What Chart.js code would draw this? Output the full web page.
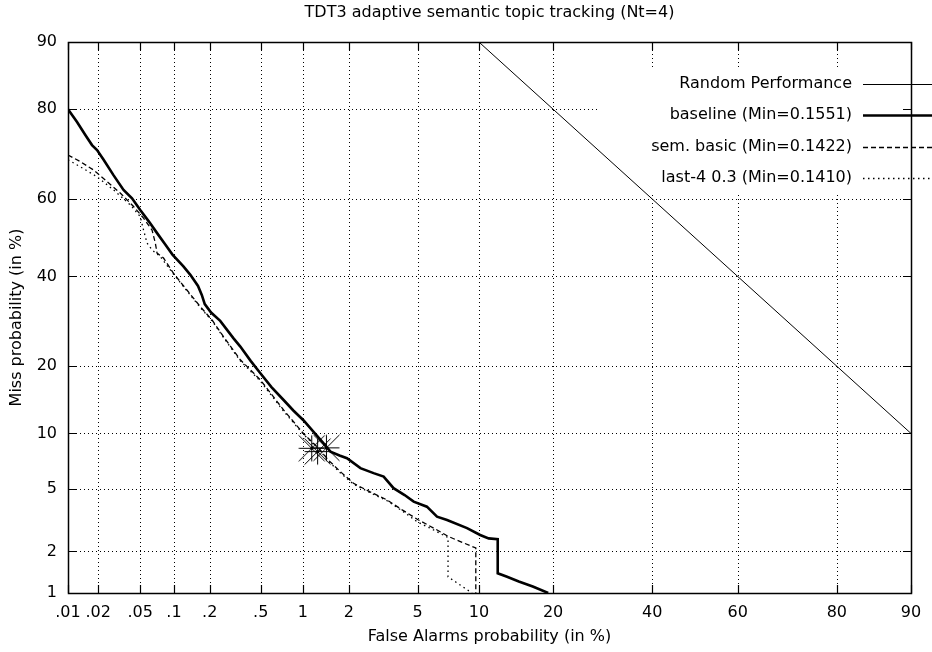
<!DOCTYPE html>
<html>
<head>
<meta charset="utf-8">
<script src="https://cdn.jsdelivr.net/npm/chart.js@4.4.1/dist/chart.umd.min.js"></script>
<style>
  html, body { margin: 0; padding: 0; background: #ffffff; }
  #wrap { width: 932px; height: 652px; }
</style>
</head>
<body>
<div id="wrap"><canvas id="det" width="932" height="652"></canvas></div>
<script>
// ---- DET curve data (percent) ----
const chartTitle = 'TDT3 adaptive semantic topic tracking (Nt=4)';
const xAxisTitle = 'False Alarms probability (in %)';
const yAxisTitle = 'Miss probability (in %)';

const xTickValues = [0.01, 0.02, 0.05, 0.1, 0.2, 0.5, 1, 2, 5, 10, 20, 40, 60, 80, 90];
const xTickLabels = ['.01', '.02', '.05', '.1', '.2', '.5', '1', '2', '5', '10', '20', '40', '60', '80', '90'];
const yTickValues = [1, 2, 5, 10, 20, 40, 60, 80, 90];
const yTickLabels = ['1', '2', '5', '10', '20', '40', '60', '80', '90'];

const seriesNames = [
  'Random Performance',
  'baseline (Min=0.1551)',
  'sem. basic (Min=0.1422)',
  'last-4 0.3 (Min=0.1410)'
];

const randomFa = [10, 90];
const randomMiss = [90, 10];

const baselineFa = [0.01, 0.0123, 0.015, 0.0174, 0.0195, 0.0226, 0.0281, 0.035, 0.042, 0.050, 0.060, 0.071,
  0.083, 0.097, 0.120, 0.138, 0.160, 0.172, 0.182, 0.205, 0.243, 0.31, 0.35, 0.42, 0.497, 0.60, 0.734, 0.86,
  1.01, 1.18, 1.38, 1.53, 1.75, 1.95, 2.36, 2.83, 3.24, 3.69, 4.25, 4.76, 5.59, 6.30, 7.07, 8.82, 10.13,
  11.05, 12.1, 12.1, 13.25, 14.8, 16.8, 19.2];
const baselineMiss = [80, 77.6, 74.9, 72.8, 71.7, 69.5, 65.9, 62.3, 60.2, 57.2, 54.2, 51.2,
  48.4, 45.6, 42.6, 40.4, 37.6, 35.4, 33.2, 31.2, 29.3, 25.5, 23.8, 21.0, 18.75, 16.4, 14.4, 12.9,
  11.6, 10.2, 8.9, 8.07, 7.7, 7.44, 6.57, 6.16, 5.89, 5.05, 4.6, 4.2, 3.91, 3.39, 3.23, 2.86, 2.58,
  2.45, 2.42, 1.40, 1.32, 1.22, 1.12, 1.0];

const semBasicFa = [0.01, 0.0133, 0.0181, 0.0243, 0.0326, 0.0434, 0.0536, 0.064, 0.0685, 0.0709, 0.081,
  0.099, 0.129, 0.167, 0.209, 0.259, 0.35, 0.497, 0.734, 1.01, 1.31, 1.48, 1.8, 2.14, 2.7, 3.39, 4.1, 5.05,
  6.1, 7.19, 8.2, 9.68, 9.68];
const semBasicMiss = [70.6, 69.1, 67.1, 64.4, 61.5, 58.1, 55.1, 52.0, 48.6, 46.0, 44.7,
  40.8, 36.6, 32.6, 29.5, 25.8, 21.2, 17.6, 12.97, 10.0, 8.23, 7.28, 6.2, 5.39, 4.8, 4.30, 3.75, 3.23,
  2.85, 2.52, 2.33, 2.11, 1.0];

const last4Fa = [0.01, 0.0133, 0.0195, 0.0281, 0.0405, 0.050, 0.0536, 0.0577, 0.064, 0.0757, 0.099, 0.129,
  0.167, 0.209, 0.259, 0.35, 0.497, 0.734, 1.01, 1.31, 1.48, 1.8, 2.14, 2.7, 3.39, 4.1, 4.96, 6.0, 7.15,
  7.15, 9.3];
const last4Miss = [69.5, 67.9, 65.5, 62.3, 58.5, 55.5, 52.0, 48.6, 46.8, 45.1, 40.6, 36.4,
  32.4, 29.3, 25.6, 21.0, 17.4, 12.8, 9.9, 8.15, 7.2, 6.1, 5.33, 4.75, 4.25, 3.7, 3.15, 2.8, 2.48,
  1.32, 1.0];

// minimum detection cost operating points (baseline, sem. basic, last-4)
const minFa = [1.44, 1.26, 1.15];
const minMiss = [8.44, 8.07, 8.4];

// ---- normal deviate (probit) transform used by the DET axes ----
function probit(p) {
  const a = [-3.969683028665376e+01, 2.209460984245205e+02, -2.759285104469687e+02, 1.383577518672690e+02, -3.066479806614716e+01, 2.506628277459239e+00];
  const b = [-5.447609879822406e+01, 1.615858368580409e+02, -1.556989798598866e+02, 6.680131188771972e+01, -1.328068155288572e+01];
  const c = [-7.784894002430293e-03, -3.223964580411365e-01, -2.400758277161838e+00, -2.549732516482500e+00, 4.374664141464968e+00, 2.938163982698783e+00];
  const d = [7.784695709041462e-03, 3.224671290700398e-01, 2.445134137142996e+00, 3.754408661907416e+00];
  const pl = 0.02425, ph = 1 - pl;
  let q, r;
  if (p < pl) {
    q = Math.sqrt(-2 * Math.log(p));
    return (((((c[0] * q + c[1]) * q + c[2]) * q + c[3]) * q + c[4]) * q + c[5]) / ((((d[0] * q + d[1]) * q + d[2]) * q + d[3]) * q + 1);
  }
  if (p <= ph) {
    q = p - 0.5; r = q * q;
    return (((((a[0] * r + a[1]) * r + a[2]) * r + a[3]) * r + a[4]) * r + a[5]) * q / (((((b[0] * r + b[1]) * r + b[2]) * r + b[3]) * r + b[4]) * r + 1);
  }
  q = Math.sqrt(-2 * Math.log(1 - p));
  return -(((((c[0] * q + c[1]) * q + c[2]) * q + c[3]) * q + c[4]) * q + c[5]) / ((((d[0] * q + d[1]) * q + d[2]) * q + d[3]) * q + 1);
}
const nd = pct => probit(pct / 100);
const toPoints = (fa, miss) => fa.map((v, i) => ({ x: nd(v), y: nd(miss[i]) }));

const FONT = '"DejaVu Sans", Verdana, sans-serif';
const FONT_SIZE = 16;

const seriesStyles = [
  { width: 1, dash: [] },
  { width: 2.6, dash: [] },
  { width: 1.3, dash: [5, 3] },
  { width: 1.3, dash: [1.5, 3.5] }
];

// gnuplot-like asterisk marker (+ and x overlaid)
function asteriskMarker(s) {
  const size = 2 * s + 3;
  const cv = document.createElement('canvas');
  cv.width = size; cv.height = size;
  const g = cv.getContext('2d');
  const m = Math.floor(size / 2) + 0.5;
  g.strokeStyle = '#000';
  g.lineWidth = 1;
  g.beginPath();
  g.moveTo(m - s, m); g.lineTo(m + s, m);
  g.moveTo(m, m - s); g.lineTo(m, m + s);
  g.moveTo(m - s, m - s); g.lineTo(m + s, m + s);
  g.moveTo(m - s, m + s); g.lineTo(m + s, m - s);
  g.stroke();
  return cv;
}

// grid, frame and inward tick marks; the key area keeps the grid clear
const detFrame = {
  id: 'detFrame',
  beforeDatasetsDraw(chart) {
    const { ctx, chartArea: a, scales } = chart;
    const keyBox = { l: a.right - 313, r: a.right, t: a.top + 28, b: a.top + 153 };
    ctx.save();
    ctx.strokeStyle = '#000';
    ctx.lineWidth = 1;
    ctx.setLineDash([1, 3]);
    xTickValues.forEach(v => {
      const px = Math.round(scales.x.getPixelForValue(nd(v))) + 0.5;
      ctx.beginPath();
      if (px > keyBox.l && px < keyBox.r) {
        ctx.moveTo(px, a.top); ctx.lineTo(px, keyBox.t);
        ctx.moveTo(px, keyBox.b); ctx.lineTo(px, a.bottom);
      } else {
        ctx.moveTo(px, a.top); ctx.lineTo(px, a.bottom);
      }
      ctx.stroke();
    });
    yTickValues.forEach(v => {
      const py = Math.round(scales.y.getPixelForValue(nd(v))) + 0.5;
      ctx.beginPath();
      ctx.moveTo(a.left, py);
      if (py > keyBox.t && py < keyBox.b) ctx.lineTo(keyBox.l, py);
      else ctx.lineTo(a.right, py);
      ctx.stroke();
    });
    ctx.restore();
  },
  afterDatasetsDraw(chart) {
    const { ctx, chartArea: a, scales } = chart;
    const tick = 8;
    ctx.save();
    ctx.strokeStyle = '#000';
    ctx.lineWidth = 1.5;
    ctx.setLineDash([]);
    ctx.strokeRect(Math.round(a.left) + 0.5, Math.round(a.top) + 0.5, Math.round(a.right - a.left), Math.round(a.bottom - a.top));
    ctx.lineWidth = 1.2;
    ctx.beginPath();
    xTickValues.forEach(v => {
      const px = Math.round(scales.x.getPixelForValue(nd(v))) + 0.5;
      ctx.moveTo(px, a.bottom); ctx.lineTo(px, a.bottom - tick);
      ctx.moveTo(px, a.top); ctx.lineTo(px, a.top + tick);
    });
    yTickValues.forEach(v => {
      const py = Math.round(scales.y.getPixelForValue(nd(v))) + 0.5;
      ctx.moveTo(a.left, py); ctx.lineTo(a.left + tick, py);
      ctx.moveTo(a.right, py); ctx.lineTo(a.right - tick, py);
    });
    ctx.stroke();
    ctx.restore();
  }
};

// key: right-aligned labels with line samples
const detKey = {
  id: 'detKey',
  afterDraw(chart) {
    const { ctx, chartArea: a } = chart;
    const textRight = a.right - 59;
    const sampleL = a.right - 48, sampleR = a.right + 21;
    const rowTop = a.top + 42, rowStep = 31.3;
    ctx.save();
    ctx.font = FONT_SIZE + 'px ' + FONT;
    ctx.fillStyle = '#000';
    ctx.textAlign = 'right';
    ctx.textBaseline = 'middle';
    seriesNames.forEach((name, i) => {
      const y = rowTop + i * rowStep;
      ctx.fillText(name, textRight, y);
      const s = seriesStyles[i];
      ctx.lineWidth = s.width;
      ctx.setLineDash(s.dash);
      ctx.strokeStyle = '#000';
      ctx.beginPath();
      ctx.moveTo(sampleL, Math.round(y) + 0.5);
      ctx.lineTo(sampleR, Math.round(y) + 0.5);
      ctx.stroke();
    });
    ctx.restore();
  }
};

const lineSet = (label, fa, miss, style) => ({
  label,
  data: toPoints(fa, miss),
  showLine: true,
  borderColor: '#000',
  backgroundColor: '#000',
  borderWidth: style.width,
  borderDash: style.dash,
  pointRadius: 0,
  pointHoverRadius: 0,
  tension: 0,
  fill: false
});

new Chart(document.getElementById('det'), {
  type: 'scatter',
  data: {
    datasets: [
      lineSet(seriesNames[0], randomFa, randomMiss, seriesStyles[0]),
      lineSet(seriesNames[1], baselineFa, baselineMiss, seriesStyles[1]),
      lineSet(seriesNames[2], semBasicFa, semBasicMiss, seriesStyles[2]),
      lineSet(seriesNames[3], last4Fa, last4Miss, seriesStyles[3]),
      {
        label: 'min DCF',
        data: toPoints(minFa, minMiss),
        showLine: false,
        pointStyle: asteriskMarker(13),
        pointRadius: 14,
        borderColor: '#000',
        backgroundColor: '#000'
      }
    ]
  },
  options: {
    responsive: false,
    animation: false,
    devicePixelRatio: 1,
    events: [],
    layout: { padding: { left: 0, right: 21, top: 0, bottom: 0 } },
    plugins: {
      legend: { display: false },
      tooltip: { enabled: false },
      title: {
        display: true,
        fullSize: false,
        text: chartTitle,
        color: '#000',
        font: { family: FONT, size: FONT_SIZE, weight: 'normal', lineHeight: 1.2 },
        padding: { top: 3.4, bottom: 19.4 }
      }
    },
    scales: {
      x: {
        type: 'linear',
        min: nd(0.01),
        max: nd(90),
        afterBuildTicks: s => { s.ticks = xTickValues.map(v => ({ value: nd(v) })); },
        afterFit: s => { s.height = 59; },
        grid: { display: false, drawTicks: false },
        border: { display: false },
        ticks: {
          autoSkip: false,
          maxRotation: 0,
          padding: 10,
          color: '#000',
          font: { family: FONT, size: FONT_SIZE },
          callback: (val, i) => xTickLabels[i]
        },
        title: {
          display: true,
          text: xAxisTitle,
          color: '#000',
          font: { family: FONT, size: FONT_SIZE, lineHeight: 1.2 },
          padding: { top: 0, bottom: 6 }
        }
      },
      y: {
        type: 'linear',
        min: nd(1),
        max: nd(90),
        afterBuildTicks: s => { s.ticks = yTickValues.map(v => ({ value: nd(v) })); },
        afterFit: s => { s.width = 68; },
        grid: { display: false, drawTicks: false },
        border: { display: false },
        ticks: {
          autoSkip: false,
          padding: 11,
          color: '#000',
          font: { family: FONT, size: FONT_SIZE },
          callback: (val, i) => yTickLabels[i]
        },
        title: {
          display: true,
          text: yAxisTitle,
          color: '#000',
          font: { family: FONT, size: FONT_SIZE, lineHeight: 1.2 },
          padding: { top: 7, bottom: 0 }
        }
      }
    }
  },
  plugins: [detFrame, detKey]
});
</script>
</body>
</html>
